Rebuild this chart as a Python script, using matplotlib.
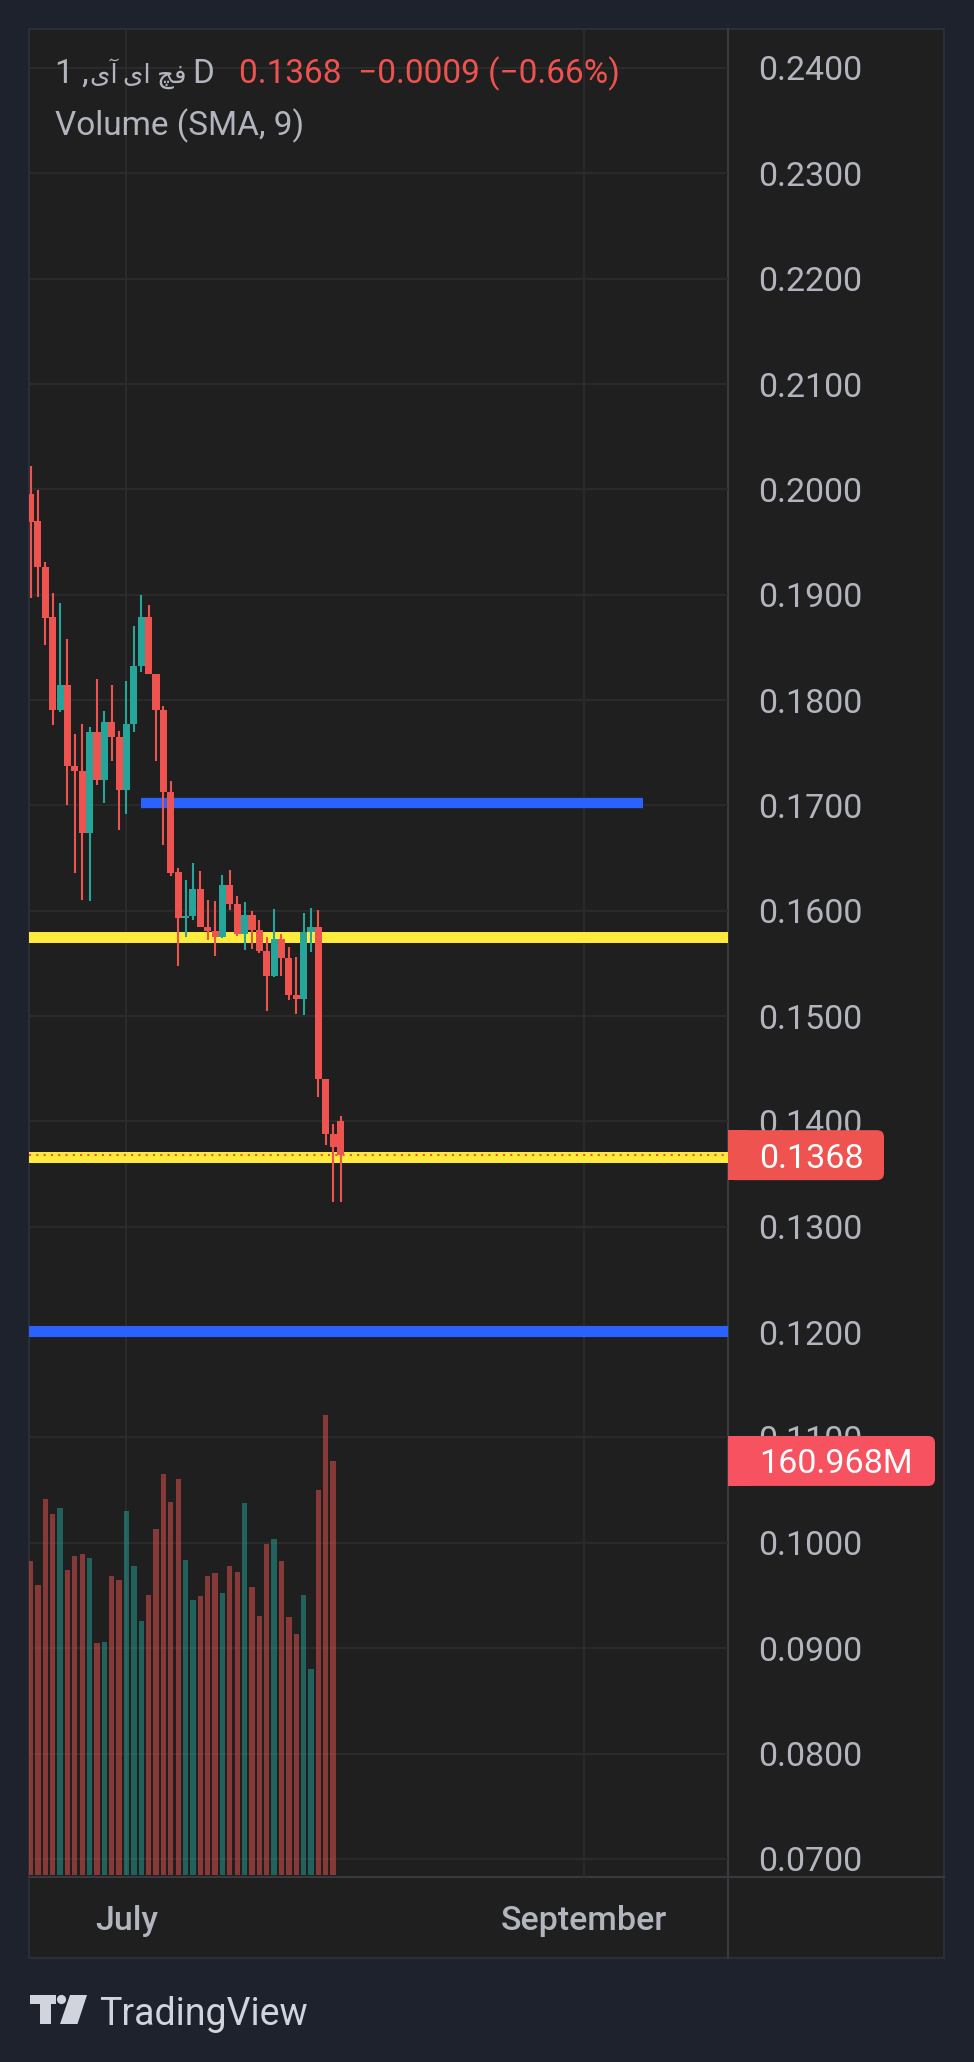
import numpy as np
import pandas as pd
import matplotlib
matplotlib.use('Agg')
import matplotlib.pyplot as plt
import matplotlib.dates as mdates
import matplotlib.transforms as mtransforms
from matplotlib.patches import Rectangle, FancyBboxPatch, Polygon, Circle
from matplotlib.lines import Line2D
from matplotlib.ticker import FormatStrFormatter

plt.rcParams['font.family'] = ['Roboto', 'DejaVu Sans']

# daily candles, 18 Jun -> 30 Jul
dates = pd.date_range('2023-06-18', periods=43, freq='D')
opens = [0.1996, 0.1970, 0.1926, 0.1879, 0.1791, 0.1814, 0.1737, 0.1733, 0.1674, 0.1770,
         0.1724, 0.1779, 0.1765, 0.1715, 0.1777, 0.1832, 0.1879, 0.1825, 0.1791, 0.1713,
         0.1637, 0.1593, 0.1595, 0.1621, 0.1585, 0.1581, 0.1575, 0.1624, 0.1606, 0.1578,
         0.1596, 0.1582, 0.1562, 0.1538, 0.1573, 0.1555, 0.1520, 0.1516, 0.1580, 0.1585,
         0.1440, 0.1388, 0.1400]
highs = [0.2022, 0.1999, 0.1931, 0.1902, 0.1892, 0.1858, 0.1768, 0.1777, 0.1774, 0.1820,
         0.1790, 0.1814, 0.1771, 0.1818, 0.1870, 0.1900, 0.1890, 0.1825, 0.1794, 0.1723,
         0.1641, 0.1629, 0.1645, 0.1638, 0.1610, 0.1609, 0.1634, 0.1639, 0.1614, 0.1608,
         0.1600, 0.1591, 0.1575, 0.1602, 0.1578, 0.1566, 0.1556, 0.1598, 0.1603, 0.1601,
         0.1440, 0.1398, 0.1405]
lows = [0.1897, 0.1898, 0.1852, 0.1776, 0.1789, 0.1700, 0.1636, 0.1610, 0.1609, 0.1719,
        0.1702, 0.1742, 0.1677, 0.1692, 0.1770, 0.1827, 0.1825, 0.1742, 0.1662, 0.1633,
        0.1548, 0.1575, 0.1591, 0.1585, 0.1572, 0.1557, 0.1574, 0.1601, 0.1576, 0.1563,
        0.1564, 0.1560, 0.1505, 0.1537, 0.1538, 0.1515, 0.1502, 0.1501, 0.1561, 0.1423,
        0.1378, 0.1324, 0.1324]
closes = [0.1969, 0.1926, 0.1878, 0.1791, 0.1814, 0.1737, 0.1733, 0.1674, 0.1770, 0.1724,
          0.1779, 0.1765, 0.1715, 0.1777, 0.1832, 0.1879, 0.1825, 0.1791, 0.1713, 0.1636,
          0.1593, 0.1595, 0.1621, 0.1585, 0.1581, 0.1575, 0.1624, 0.1606, 0.1578, 0.1596,
          0.1582, 0.1562, 0.1538, 0.1573, 0.1555, 0.1520, 0.1516, 0.1580, 0.1585, 0.1440,
          0.1388, 0.1376, 0.1368]
# volume in millions (today's candle has no volume bar yet)
volumes = [122.1, 112.8, 146.2, 140.4, 142.7, 118.6, 124.0, 124.8, 123.3, 90.2,
           90.6, 116.3, 114.7, 141.5, 120.1, 98.8, 108.9, 134.5, 155.9, 145.0,
           154.0, 122.5, 106.9, 108.5, 116.3, 117.4, 109.6, 120.1, 117.8, 144.6,
           112.0, 100.7, 128.7, 130.6, 122.1, 100.3, 93.7, 108.9, 80.1, 149.7,
           178.8, 160.968]

yellow_levels = [0.1575, 0.1366]
blue_levels = [0.1201]
blue_ray = (0.1702, '2023-07-03', '2023-09-09')

price_ticks = np.arange(0.07, 0.2401, 0.01)
# symbol name, glyphs in visual (left-to-right) order
legend_head = '1 ,'
legend_name = '\ufeef\ufe81\u2009\ufeef\ufe8d \ufb7b\ufed3'
legend_tf = 'D'
legend_change = '0.1368  \u22120.0009 (\u22120.66%)'
volume_label = '160.968M'

RED = '#ef5350'
TEAL = '#26a69a'
TXT = '#b2b5be'
BG = '#1f1f1f'
OUTER = '#1e222d'

W, H = 974, 2062
fig = plt.figure(figsize=(W / 100, H / 100), dpi=100, facecolor=OUTER)
# pixel coordinates, origin top-left
pix = mtransforms.Affine2D().scale(1 / W, -1 / H).translate(0, 1) + fig.transFigure


def frac_box(x0, y0, x1, y1):
    return [x0 / W, 1 - y1 / H, (x1 - x0) / W, (y1 - y0) / H]


# panel background + frame
fig.add_artist(Rectangle((29, 29), 915, 1929, transform=pix, facecolor=BG,
                         edgecolor='#2a2e39', lw=1.5, zorder=-5))
fig.add_artist(Line2D([728, 728], [29, 1958], transform=pix, color='#383a40', lw=1.5, zorder=-4))
fig.add_artist(Line2D([29, 944], [1877, 1877], transform=pix, color='#383a40', lw=1.5, zorder=-4))

pane = (29, 29, 728, 1877)
ax = fig.add_axes(frac_box(*pane))
ax.set_facecolor('none')
ax_v = fig.add_axes(frac_box(*pane), sharex=ax)
ax_v.set_facecolor('none')
ax_v.axis('off')

x = mdates.date2num(dates)
o, h, l, c = map(np.array, (opens, highs, lows, closes))
up = c >= o
col = np.where(up, TEAL, RED)

ax.vlines(x, l, h, colors=col, lw=1.5, zorder=4)
ax.bar(x, np.maximum(np.abs(c - o), 0.0001), bottom=np.minimum(o, c), width=0.96,
       color=col, linewidth=0, zorder=5)

n = len(volumes)
ax_v.bar(x[:n], volumes, width=0.72, color=col[:n], alpha=0.5, linewidth=0)
ax_v.set_ylim(-0.78, 717.7)

for lvl in yellow_levels:
    ax.axhline(lvl, color='#ffeb3b', lw=7.9, zorder=2)
for lvl in blue_levels:
    ax.axhline(lvl, color='#2962ff', lw=8.0, zorder=2)
bx = mdates.date2num(pd.to_datetime([blue_ray[1], blue_ray[2]]))
ax.plot(bx, [blue_ray[0]] * 2, color='#2962ff', lw=7.4, solid_capstyle='butt', zorder=2)
ax.axhline(closes[-1], color=RED, lw=1.5, ls=(0, (1, 2.5)), zorder=3)

x_jul1 = mdates.date2num(pd.Timestamp('2023-07-01'))
ax.set_xlim(x_jul1 - 13.21, x_jul1 + 81.5)
ax.set_ylim(0.06828, 0.24370)
ax.set_yticks(price_ticks)
ax.yaxis.set_major_formatter(FormatStrFormatter('%.4f'))
ax.yaxis.tick_right()
ax.tick_params(axis='y', length=0, pad=21.6, labelsize=24.5, labelcolor=TXT)
ax.xaxis.set_major_locator(mdates.MonthLocator(bymonth=(7, 9)))
ax.xaxis.set_major_formatter(mdates.DateFormatter('%B'))
ax.tick_params(axis='x', length=0, pad=20, labelsize=24.5, labelcolor=TXT)
plt.setp(ax.get_xticklabels(), fontweight='medium')
ax.grid(True, color='#2c2c2c', lw=1.3)
ax.set_axisbelow(True)
for s in ax.spines.values():
    s.set_visible(False)


def to_px(axis, xv, yv):
    d = axis.transData.transform((xv, yv))
    fx, fy = fig.transFigure.inverted().transform(d)
    return fx * W, (1 - fy) * H


def price_tag(yp, width, color, text):
    fig.add_artist(FancyBboxPatch((728, yp - 25), width, 50, transform=pix,
                                  boxstyle='round,pad=0,rounding_size=7',
                                  facecolor=color, edgecolor='none', zorder=6))
    fig.add_artist(Rectangle((728, yp - 25), 20, 50, transform=pix,
                             facecolor=color, edgecolor='none', zorder=6))
    fig.text(759, yp, text, transform=pix, color='white', fontsize=24.5,
             va='center_baseline', ha='left', zorder=7)


_, y_last = to_px(ax, x[-1], closes[-1])
price_tag(y_last, 156, RED, f'{closes[-1]:.4f}')
_, y_vol = to_px(ax_v, x[n - 1], volumes[-1])
price_tag(y_vol, 207, '#f7525f', volume_label)

# legend
fig.text(55, 83, legend_head, transform=pix, color=TXT, fontsize=24, va='baseline')
fig.text(187, 83, legend_name, transform=pix, color=TXT, fontsize=18.8, va='baseline',
         ha='right')
fig.text(214, 83, legend_tf, transform=pix, color=TXT, fontsize=24, va='baseline', ha='right')
fig.text(239, 83, legend_change, transform=pix, color=RED, fontsize=24, va='baseline')
fig.text(55, 135, 'Volume (SMA, 9)', transform=pix, color=TXT, fontsize=24, va='baseline')

# TradingView watermark
logo = '#d1d4dc'
fig.add_artist(Polygon([(30, 1995), (56, 1995), (56, 2004), (51, 2004), (51, 2024),
                        (40, 2024), (40, 2004), (30, 2004)], closed=True, transform=pix,
                       facecolor=logo, edgecolor='none'))
fig.add_artist(Circle((61.5, 1999.5), 4.6, transform=pix, facecolor=logo, edgecolor='none'))
fig.add_artist(Polygon([(70, 1995), (87, 1995), (77.5, 2024), (60, 2024)], closed=True,
                       transform=pix, facecolor=logo, edgecolor='none'))
fig.text(99, 2025, 'TradingView', transform=pix, color=logo, fontsize=27, va='baseline')

fig.savefig('out.png', dpi=100, facecolor=fig.get_facecolor())
